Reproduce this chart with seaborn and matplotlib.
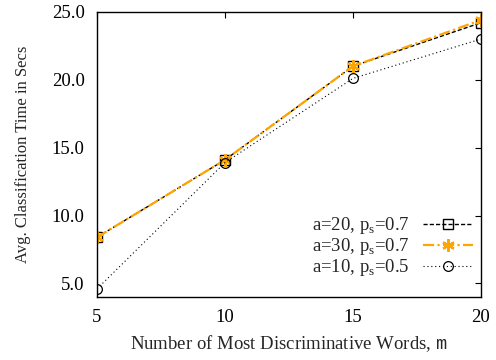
import matplotlib
matplotlib.use("Agg")
import matplotlib.pyplot as plt
import seaborn as sns
import pandas as pd

# Number of most discriminative words
m_values = [5, 10, 15, 20]
# Average classification time (seconds) per configuration
time_a20_p07 = [8.4, 14.1, 21.0, 24.2]
time_a30_p07 = [8.4, 14.1, 21.0, 24.4]
time_a10_p05 = [4.6, 13.9, 20.1, 23.0]

labels = [r"a=20, p$_\mathrm{s}$=0.7", r"a=30, p$_\mathrm{s}$=0.7", r"a=10, p$_\mathrm{s}$=0.5"]
yticks = [5.0, 10.0, 15.0, 20.0, 25.0]

sns.set_theme(style="white")
plt.rcParams["font.family"] = ["Liberation Serif", "DejaVu Serif"]
plt.rcParams["mathtext.fontset"] = "custom"
plt.rcParams["mathtext.rm"] = "Liberation Serif"
plt.rcParams["mathtext.tt"] = "Liberation Mono"
plt.rcParams["font.size"] = 13

df = pd.concat([
    pd.DataFrame({"m": m_values, "t": time_a20_p07, "cfg": labels[0]}),
    pd.DataFrame({"m": m_values, "t": time_a30_p07, "cfg": labels[1]}),
    pd.DataFrame({"m": m_values, "t": time_a10_p05, "cfg": labels[2]}),
])

fig = plt.figure(figsize=(4.96, 3.6), dpi=100)
ax = fig.add_axes([0.1956, 0.175, 0.774, 0.792])

styles = {
    labels[0]: dict(color="black", ls=(0, (3, 1.5)), lw=1.0, marker="s", ms=7,
                    mfc="none", mec="black", mew=1.0),
    labels[1]: dict(color="orange", ls=(0, (5, 1.5, 1, 1.5)), lw=1.6, marker=(6, 2, 0), ms=9,
                    mfc="orange", mec="orange", mew=1.6),
    labels[2]: dict(color="black", ls=(0, (1, 2.5)), lw=0.8, marker="o", ms=7,
                    mfc="none", mec="black", mew=0.9),
}

for lab in labels:
    sub = df[df["cfg"] == lab]
    sns.lineplot(data=sub, x="m", y="t", ax=ax, label=lab, **styles[lab])

ax.set_xlim(5, 20)
ax.set_ylim(4, 25)
ax.set_xticks(m_values)
ax.set_yticks(yticks)
ax.set_yticklabels([f"{v:.1f}" for v in yticks])
ax.tick_params(direction="in", top=True, right=True, length=4, width=0.8,
               labelsize=13.5, colors="black", pad=9)
for s in ax.spines.values():
    s.set_color("black")
    s.set_linewidth(1.0)

ax.set_xlabel(r"Number of Most Discriminative Words, $\mathtt{m}$", fontsize=13.5, labelpad=5)
ax.set_ylabel("Avg. Classification Time in Secs", fontsize=12, labelpad=15)

ax.legend(loc="lower right", bbox_to_anchor=(1.0, 0.04), markerfirst=False, frameon=False,
          fontsize=13.5, handlelength=2.7, handletextpad=0.7, labelspacing=0.0,
          borderaxespad=0.0, borderpad=0.4)

fig.savefig("out.png", dpi=100)
